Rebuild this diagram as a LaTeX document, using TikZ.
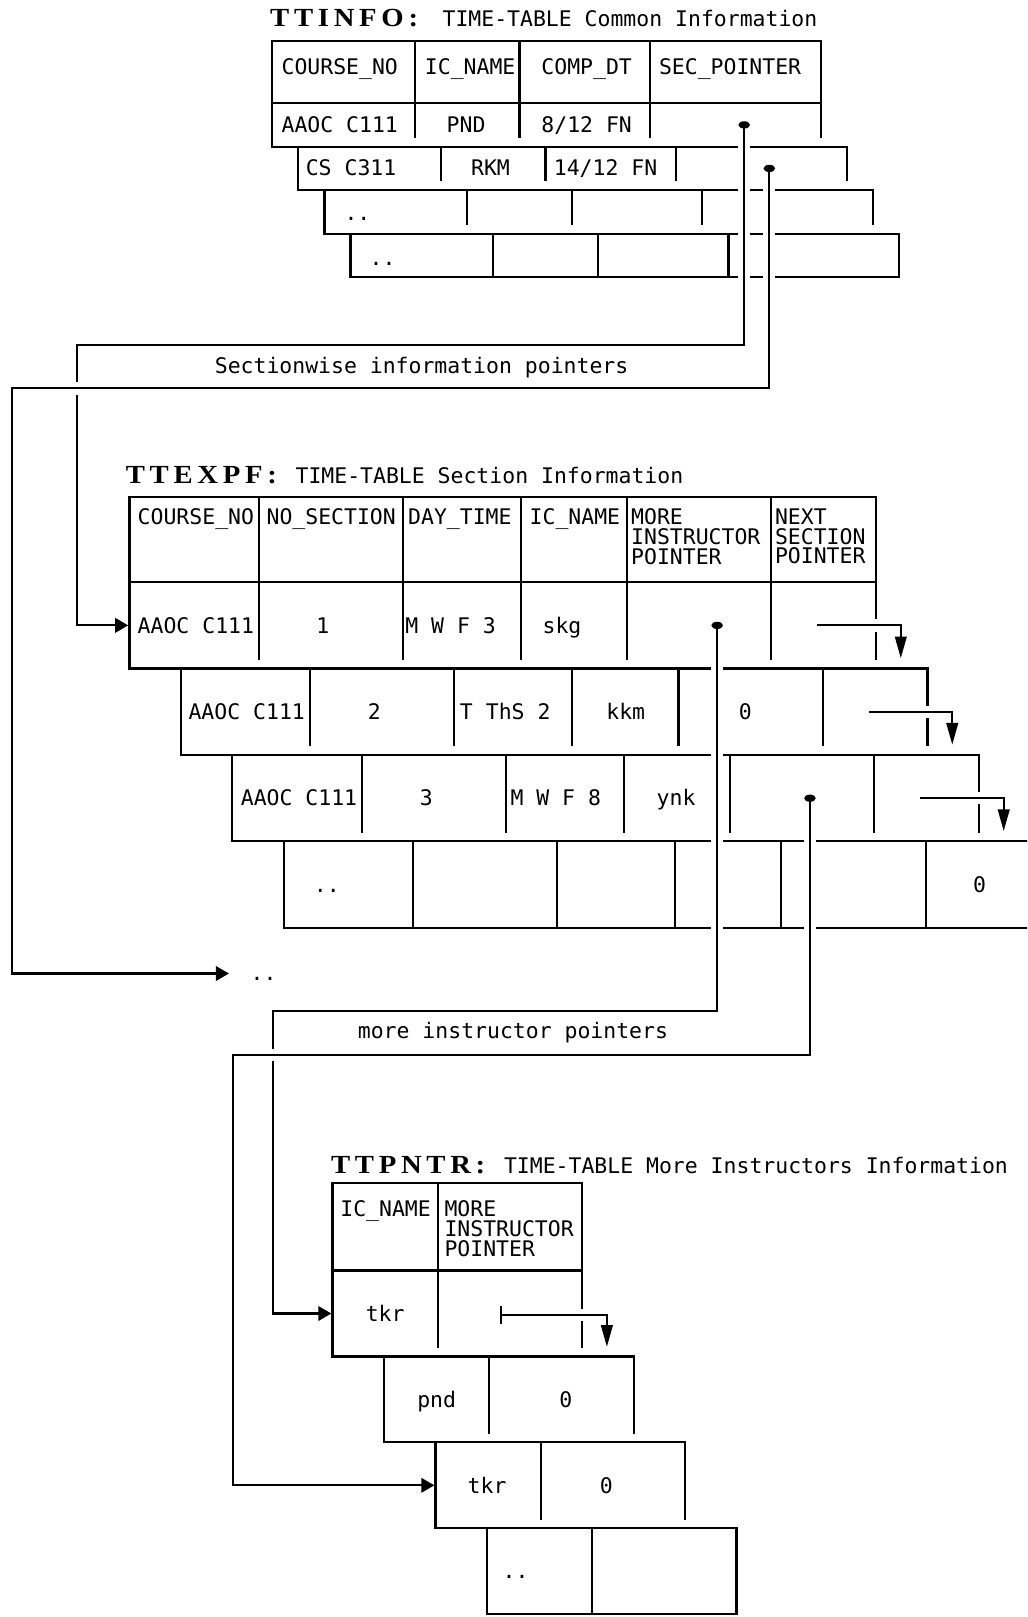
\documentclass[tikz,border=0pt]{standalone}
\usepackage{fontspec}
\setmonofont{DejaVu Sans Mono}
\newfontfamily\headfont{Liberation Serif}[FakeStretch=1.1,LetterSpace=18]
\usetikzlibrary{arrows.meta}
\begin{document}
\begin{tikzpicture}[x=0.025cm, y=-0.025cm, line width=1.5pt, line cap=rect,
  every node/.style={font=\fontsize{14.8}{13.6}\selectfont\ttfamily, inner sep=0pt},
  hd/.style={anchor=north west, align=left},
  lt/.style={anchor=base west},
  ct/.style={anchor=base},
  link/.style={preaction={draw=white, line width=8.5pt, line cap=butt, -}},
  tipd/.style={-{Triangle[length=15pt, width=8pt]}},
  tipr/.style={-{Triangle[length=9pt, width=10pt]}}]
\useasboundingbox (0,0) rectangle (996,1568);
\clip (0,0) rectangle (996,1568);
% TTINFO
\draw (264,39.4) rectangle (796,100);
\foreach \c in {138.5,239.7,366.5} \draw (264+\c,39.4) -- (264+\c,100);
\foreach \i [evaluate=\i as \xl using 264+25.3*\i, evaluate=\i as \yt using 100+42.2*\i,
  evaluate=\i as \xb using (\i<3)*25.3+(1-(\i<3))*532,
  evaluate=\i as \ys using 100+42.2*(\i+1)-(\i<3)*9.5] in {0,...,3} {
  \draw (\xl+\xb,\yt+42.2) -| (\xl,\yt) -- (\xl+532,\yt);
  \foreach \c in {138.5,239.7,366.5,532} \draw (\xl+\c,\yt) -- (\xl+\c,\ys);
}
% TTEXPF
\draw (125.5,482) rectangle (849.5,564.5);
\foreach \c in {125.5,265,379.5,482.5,622.5} \draw (125.5+\c,482) -- (125.5+\c,564.5);
\foreach \i [evaluate=\i as \xl using 125.5+49.9*\i, evaluate=\i as \yt using 564.5+83.8*\i,
  evaluate=\i as \xb using (\i<3)*49.9+(1-(\i<3))*724,
  evaluate=\i as \ys using 564.5+83.8*(\i+1)-(\i<3)*9.5] in {0,...,3} {
  \draw (\xl+\xb,\yt+83.8) -| (\xl,\yt) -- (\xl+724,\yt);
  \foreach \c in {125.5,265,379.5,482.5,622.5,724} \draw (\xl+\c,\yt) -- (\xl+\c,\ys);
}
% TTPNTR
\draw (322.5,1147) rectangle (564.5,1232);
\draw (424.5,1147) -- (424.5,1232);
\foreach \i [evaluate=\i as \xl using 322.5+49.9*\i, evaluate=\i as \yt using 1232+83.3*\i,
  evaluate=\i as \xb using (\i<3)*49.9+(1-(\i<3))*242,
  evaluate=\i as \ys using 1232+83.3*(\i+1)-(\i<3)*9.5] in {0,...,3} {
  \draw (\xl+\xb,\yt+83.3) -| (\xl,\yt) -- (\xl+242,\yt);
  \foreach \c in {102,242} \draw (\xl+\c,\yt) -- (\xl+\c,\ys);
}
\coordinate (inf-p1) at (721.6,121.1);
\coordinate (inf-p2) at (746,163.3);
\coordinate (xpf-in) at (124.3,606.4);
\coordinate (xpf-next) at (222,944);
\coordinate (xpf-p1) at (695.4,606.4);
\coordinate (xpf-p3) at (785.4,774);
\coordinate (xpf-n1) at (793.5,606.4);
\coordinate (xpf-t2) at (873.5,638.3);
\coordinate (xpf-n2) at (843.4,690.2);
\coordinate (xpf-t3) at (923.4,722.1);
\coordinate (xpf-n3) at (893.3,774);
\coordinate (xpf-t4) at (973.3,805.9);
\coordinate (pnt-in1) at (321.3,1273.7);
\coordinate (pnt-in3) at (421.2,1440.3);
\coordinate (pnt-n1) at (485,1275);
\coordinate (pnt-t2) at (588.5,1306);
\draw[link,tipr] (inf-p1) |- (74.5,334.6) |- (xpf-in);
\draw[link,tipr] (inf-p2) |- (12,376.6) |- (xpf-next);
\draw[link,tipr] (xpf-p1) |- (264.8,980) |- (pnt-in1);
\draw[link,tipr] (xpf-p3) |- (226.3,1023.2) |- (pnt-in3);
\foreach \sa/\sb in {n1/t2,n2/t3,n3/t4} \draw[link,tipd] (xpf-\sa) -| (xpf-\sb);
\draw[link,{Bar[width=12pt]}-{Triangle[length=15pt,width=8pt]}] (pnt-n1) -| (pnt-t2);
\foreach \p in {inf-p1,inf-p2,xpf-p1,xpf-p3} \fill (\p) ellipse [x radius=4pt, y radius=2.5pt];
% texts
\node[lt] (inf-title) at (261,26) {{\fontsize{18}{18}\headfont\bfseries TTINFO:}\hspace{8pt} TIME-TABLE Common Information};
\node[hd] (inf-h1) at (272,55.3) {COURSE\_NO};
\node[hd] (inf-h2) at (411,55.3) {IC\_NAME};
\node[hd] (inf-h3) at (524,55.3) {COMP\_DT};
\node[hd] (inf-h4) at (638,55.3) {SEC\_POINTER};
\node[lt] (inf-a1) at (272,128.4) {AAOC C111};
\node[ct] (inf-a2) at (452,128.4) {PND};
\node[lt] (inf-a3) at (524,128.4) {8/12 FN};
\node[lt] (inf-b1) at (295.5,170.6) {CS C311};
\node[ct] (inf-b2) at (475.6,170.6) {RKM};
\node[lt] (inf-b3) at (536,170.6) {14/12 FN};
\node[ct] (inf-c1) at (346.6,214) {..};
\node[ct] (inf-d1) at (371,257) {..};
\node[ct] (sec-lbl) at (408.8,362) {Sectionwise information pointers};
\node[lt] (xpf-title) at (121,468.5) {{\fontsize{18}{18}\headfont\bfseries TTEXPF:}\hspace{4pt} TIME-TABLE Section Information};
\node[hd] (xpf-h1) at (132.5,492.3) {COURSE\_NO};
\node[hd] (xpf-h2) at (257.5,492.3) {NO\_SECTION};
\node[hd] (xpf-h3) at (394.8,492.3) {DAY\_TIME};
\node[hd] (xpf-h4) at (512.6,492.3) {IC\_NAME};
\node[hd] (xpf-h5) at (611,492.3) {MORE\\INSTRUCTOR\\POINTER};
\node[hd] (xpf-h6) at (750.5,492.3) {NEXT\\SECTION\\POINTER};
\node[lt] (xpf-a1) at (132.5,613.9) {AAOC C111};
\node[ct] (xpf-a2) at (313,613.9) {1};
\node[lt] (xpf-a3) at (392,613.9) {M W F 3};
\node[ct] (xpf-a4) at (545,613.9) {skg};
\node[lt] (xpf-b1) at (181.8,697.7) {AAOC C111};
\node[ct] (xpf-b2) at (363,697.7) {2};
\node[lt] (xpf-b3) at (445,697.7) {T ThS 2};
\node[ct] (xpf-b4) at (606.8,697.7) {kkm};
\node[ct] (xpf-b5) at (722.7,697.7) {0};
\node[lt] (xpf-c1) at (232.5,781.5) {AAOC C111};
\node[ct] (xpf-c2) at (413.5,781.5) {3};
\node[lt] (xpf-c3) at (494,781.5) {M W F 8};
\node[ct] (xpf-c4) at (655.6,781.5) {ynk};
\node[ct] (xpf-d1) at (317,865.3) {..};
\node[ct] (xpf-d6) at (950,865.3) {0};
\node[ct] (xpf-more) at (255.6,951) {..};
\node[ct] (ins-lbl) at (497.4,1007) {more instructor pointers};
\node[lt] (pnt-title) at (320,1138) {{\fontsize{18}{18}\headfont\bfseries TTPNTR:}\hspace{4pt} TIME-TABLE More Instructors Information};
\node[hd] (pnt-h1) at (329,1163.3) {IC\_NAME};
\node[hd] (pnt-h2) at (430,1163.3) {MORE\\INSTRUCTOR\\POINTER};
\node[ct] (pnt-a1) at (373.5,1281.2) {tkr};
\node[ct] (pnt-b1) at (423.4,1364.5) {pnd};
\node[ct] (pnt-b2) at (548.8,1364.5) {0};
\node[ct] (pnt-c1) at (472.3,1447.8) {tkr};
\node[ct] (pnt-c2) at (588,1447.8) {0};
\node[ct] (pnt-d1) at (500,1531.1) {..};
\end{tikzpicture}
\end{document}
